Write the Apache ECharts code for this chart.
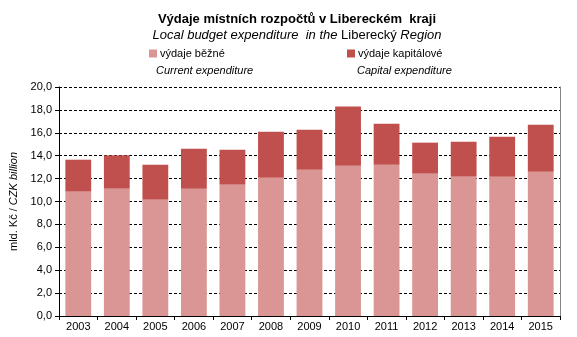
<!DOCTYPE html>
<html><head><meta charset="utf-8">
<script src="https://cdn.jsdelivr.net/npm/echarts@6/dist/echarts.min.js"></script>
<style>html,body{margin:0;padding:0;background:#fff}#c{width:577px;height:337px}</style>
</head><body><div id="c"></div>
<script>
const years = ['2003','2004','2005','2006','2007','2008','2009','2010','2011','2012','2013','2014','2015'];
const current = [10.86, 11.12, 10.16, 11.12, 11.47, 12.08, 12.78, 13.13, 13.21, 12.43, 12.17, 12.17, 12.60];
const capital = [2.79, 2.91, 3.05, 3.49, 3.05, 4.02, 3.49, 5.17, 3.59, 2.71, 3.05, 3.49, 4.11];
const yTicks = [0, 2, 4, 6, 8, 10, 12, 14, 16, 18, 20];

const F = '"Liberation Sans", Arial, sans-serif';
const chart = echarts.init(document.getElementById('c'), null, {renderer: 'canvas'});
chart.setOption({
  animation: false,
  backgroundColor: '#fff',
  textStyle: {fontFamily: F},
  title: {
    text: 'Výdaje místních rozpočtů v Libereckém  kraji',
    subtext: '{i|Local budget expenditure  in the }{n|Liberecký }{i|Region}',
    left: 292, textAlign: 'center', top: 8, itemGap: 3,
    textStyle: {fontFamily: F, fontSize: 13, fontWeight: 'bold', color: '#000'},
    subtextStyle: {fontFamily: F, fontSize: 13, color: '#000',
      rich: {i: {fontFamily: F, fontSize: 13, fontStyle: 'italic', color: '#000'},
             n: {fontFamily: F, fontSize: 13, color: '#000'}}}
  },
  legend: [
    {data: ['výdaje běžné'], left: 144, top: 43, itemWidth: 8, itemHeight: 8, itemGap: 4,
     icon: 'rect', textStyle: {fontFamily: F, fontSize: 11, color: '#000', padding: [0,0,0,-2]}},
    {data: ['výdaje kapitálové'], left: 342, top: 43, itemWidth: 8, itemHeight: 8, itemGap: 4,
     icon: 'rect', textStyle: {fontFamily: F, fontSize: 11, color: '#000', padding: [0,0,0,-2]}}
  ],
  graphic: [
    {type: 'text', left: 156, top: 65, style: {text: 'Current expenditure', font: 'italic 11px ' + F, fill: '#000'}},
    {type: 'text', left: 357, top: 65, style: {text: 'Capital expenditure', font: 'italic 11px ' + F, fill: '#000'}}
  ],
  grid: {left: 59, right: 17, top: 87, bottom: 21},
  xAxis: {
    type: 'category', data: years,
    axisLine: {lineStyle: {color: '#000', width: 1}},
    axisTick: {show: true, alignWithLabel: false, length: 4, lineStyle: {color: '#000'}},
    axisLabel: {fontFamily: F, fontSize: 11, color: '#000', margin: 5}
  },
  yAxis: [{
    type: 'value', min: 0, max: 20, interval: 2,
    name: '{a|mld. Kč / }{b|CZK billion}', nameLocation: 'middle', nameGap: 35, nameRotate: 90,
    nameTextStyle: {rich: {a: {fontFamily: F, fontSize: 11, color: '#000'}, b: {fontFamily: F, fontSize: 11, fontStyle: 'italic', color: '#000'}}},
    axisLine: {show: true, lineStyle: {color: '#000', width: 1}},
    axisTick: {show: true, length: 4, lineStyle: {color: '#000'}},
    axisLabel: {fontFamily: F, fontSize: 11, color: '#000', margin: 7,
      formatter: v => yTicks.includes(v) ? v.toFixed(1).replace('.', ',') : ''},
    splitLine: {show: true, lineStyle: {color: '#000', type: [3, 2], width: 1}}
  }, {
    type: 'value', min: 0, max: 20, interval: 2, position: 'right',
    axisLine: {show: true, lineStyle: {color: '#868686', width: 1}},
    axisTick: {show: false}, axisLabel: {show: false}, splitLine: {show: false}
  }],
  series: [
    {name: 'výdaje běžné', type: 'bar', stack: 't', data: current, barWidth: '67%',
     itemStyle: {color: '#D99694'}},
    {name: 'výdaje kapitálové', type: 'bar', stack: 't', data: capital, barWidth: '67%',
     itemStyle: {color: '#C0504D'}}
  ]
});
</script></body></html>
